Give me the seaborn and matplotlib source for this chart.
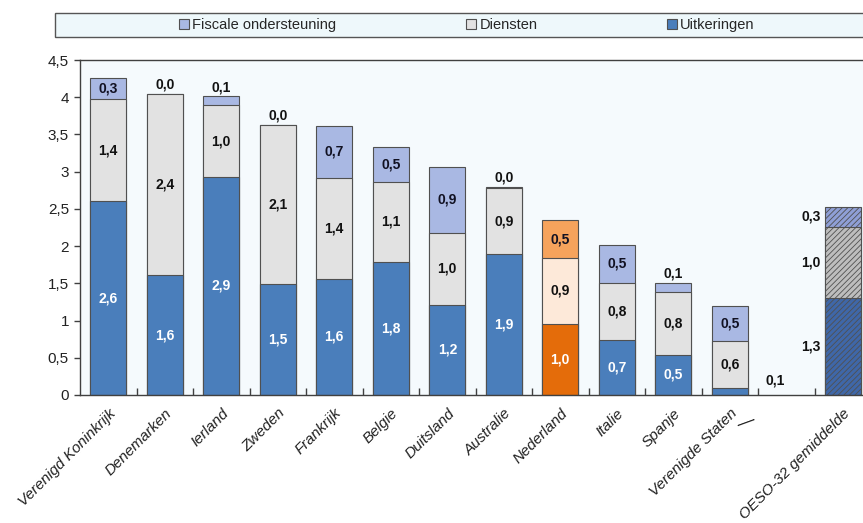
import matplotlib
matplotlib.use("Agg")
import matplotlib.pyplot as plt
from matplotlib.patches import Patch, Rectangle
from matplotlib.transforms import ScaledTranslation, blended_transform_factory
import seaborn as sns
import pandas as pd

# Public spending on families, % of GDP, split into three components
categories = ["Verenigd Koninkrijk", "Denemarken", "Ierland", "Zweden", "Frankrijk",
              "Belgie", "Duitsland", "Australie", "Nederland", "Italie", "Spanje",
              "Verenigde Staten", " ", "OESO-32 gemiddelde"]
uitkeringen = [2.60, 1.61, 2.93, 1.49, 1.56, 1.79, 1.21, 1.89, 0.96, 0.74, 0.54, 0.09, 0.0, 1.30]
diensten = [1.37, 2.44, 0.96, 2.14, 1.36, 1.07, 0.97, 0.89, 0.88, 0.76, 0.84, 0.63, 0.0, 0.96]
fiscaal = [0.29, 0.00, 0.12, 0.00, 0.70, 0.47, 0.88, 0.02, 0.51, 0.52, 0.13, 0.47, 0.0, 0.27]
series_names = ["Fiscale ondersteuning", "Diensten", "Uitkeringen"]
yticks = [0, 0.5, 1, 1.5, 2, 2.5, 3, 3.5, 4, 4.5]

sns.set_theme(style="white")
plt.rcParams["font.family"] = ["Liberation Sans", "DejaVu Sans"]
plt.rcParams["hatch.linewidth"] = 0.6

BLUE, GREY, LIGHT = "#4a7ebb", "#e2e2e2", "#a9b8e3"
NL = {"uit": "#e46c0a", "dien": "#fde9d9", "fisc": "#f6a35c"}
OESO = {"uit": "#3f67a8", "dien": "#bdbdbd", "fisc": "#8f9fd6"}
EDGE = "#505050"

df = pd.DataFrame({"land": categories, "uit": uitkeringen, "dien": diensten, "fisc": fiscaal})
df["onder"] = df["uit"] + df["dien"]
df["totaal"] = df["onder"] + df["fisc"]


def palette_for(key, base):
    pal = {}
    for c in categories:
        if c == "Nederland":
            pal[c] = NL[key]
        elif c.startswith("OESO"):
            pal[c] = OESO[key]
        else:
            pal[c] = base
    return pal


fig = plt.figure(figsize=(8.63, 5.23), dpi=100)
ax = fig.add_axes([80 / 863, 128 / 523, 791 / 863, 335 / 523])
ax.set_facecolor("#f5fafd")

# stacked bars: draw the cumulative heights back to front
for col, key, base in [("totaal", "fisc", LIGHT), ("onder", "dien", GREY), ("uit", "uit", BLUE)]:
    n0 = len(ax.patches)
    sns.barplot(data=df, x="land", y=col, hue="land", order=categories, hue_order=categories,
                palette=palette_for(key, base), legend=False, width=0.64,
                edgecolor=EDGE, linewidth=0.8, ax=ax, saturation=1)
    for p in ax.patches[n0:]:
        cx = p.get_x() + p.get_width() / 2
        if abs(cx - 13) < 0.1:
            p.set_hatch("//////")
        if p.get_height() == 0:
            p.set_linewidth(0)

ax.set_xlim(-0.5, 13.5)
ax.set_ylim(0, 4.5)
ax.set_xlabel("")
ax.set_ylabel("")


def fmt(v):
    return f"{v:.1f}".replace(".", ",")


# value labels
bw = 0.32
kw = dict(fontsize=10, fontweight="bold")
for i, c in enumerate(categories):
    u, d, f = uitkeringen[i], diensten[i], fiscaal[i]
    if u + d + f == 0:
        continue
    if c.startswith("OESO"):
        x = i - bw - 0.07
        ax.text(x, u / 2, fmt(u), ha="right", va="center", color="#111111", **kw)
        ax.text(x, u + d / 2, fmt(d), ha="right", va="center", color="#111111", **kw)
        ax.text(x, u + d + f / 2, fmt(f), ha="right", va="center", color="#111111", **kw)
        continue
    if u < 0.2:
        ax.text(i + 0.8, 0.2, fmt(u), ha="center", va="center", color="#111111", **kw)
    else:
        ax.text(i, u / 2, fmt(u), ha="center", va="center", color="white", **kw)
    ax.text(i, u + d / 2, fmt(d), ha="center", va="center", color="#111111", **kw)
    if f < 0.2:
        ax.text(i, u + d + f + 0.03, fmt(f), ha="center", va="bottom", color="#111111", **kw)
    else:
        ax.text(i, u + d + f / 2, fmt(f), ha="center", va="center", color="#111122", **kw)

# axes styling
for s in ax.spines.values():
    s.set_color("#404040")
    s.set_linewidth(1.0)
ax.set_yticks(yticks)
ax.set_yticklabels([f"{v:g}".replace(".", ",") for v in yticks], fontsize=11, color="#222222")
ax.tick_params(axis="y", direction="out", length=4, width=1, color="#404040", pad=4, left=True)
ax.set_xticks(range(len(categories)))
ax.set_xticks([i + 0.5 for i in range(len(categories) - 1)], minor=True)
ax.tick_params(axis="x", which="major", length=0, pad=2)
ax.tick_params(axis="x", which="minor", direction="in", length=5, width=1, color="#404040", bottom=True)
labels = [c if c.strip() else "" for c in categories]
ax.set_xticklabels(labels, rotation=45, ha="right", rotation_mode="anchor",
                   fontsize=11, style="italic", color="#222222")
off = ScaledTranslation(0 / 72, -6 / 72, fig.dpi_scale_trans)
for t in ax.get_xticklabels():
    t.set_transform(t.get_transform() + off)

# short dash under the blank slot
tr = blended_transform_factory(ax.transData, ax.transAxes)
ax.text(11.3, -0.08, "\u2014", transform=tr, ha="center", va="center",
        rotation=20, fontsize=13, color="#222222")

# legend in a framed band across the top
fig.patches.append(Rectangle((55 / 863, 1 - 37 / 523), 0.96, 24 / 523, transform=fig.transFigure,
                             facecolor="#eef8fb", edgecolor="#555555", linewidth=1.0))
handles = [Patch(facecolor=LIGHT, edgecolor=EDGE, linewidth=0.8),
           Patch(facecolor=GREY, edgecolor=EDGE, linewidth=0.8),
           Patch(facecolor=BLUE, edgecolor=EDGE, linewidth=0.8)]
fig.legend(handles, series_names, loc="center", bbox_to_anchor=(467 / 863, 1 - 25 / 523),
           ncol=3, frameon=False, fontsize=10.5, handlelength=0.7, handleheight=0.7,
           handletextpad=0.2, columnspacing=8.9, borderpad=0)

fig.savefig("out.png", dpi=100, facecolor="white")
